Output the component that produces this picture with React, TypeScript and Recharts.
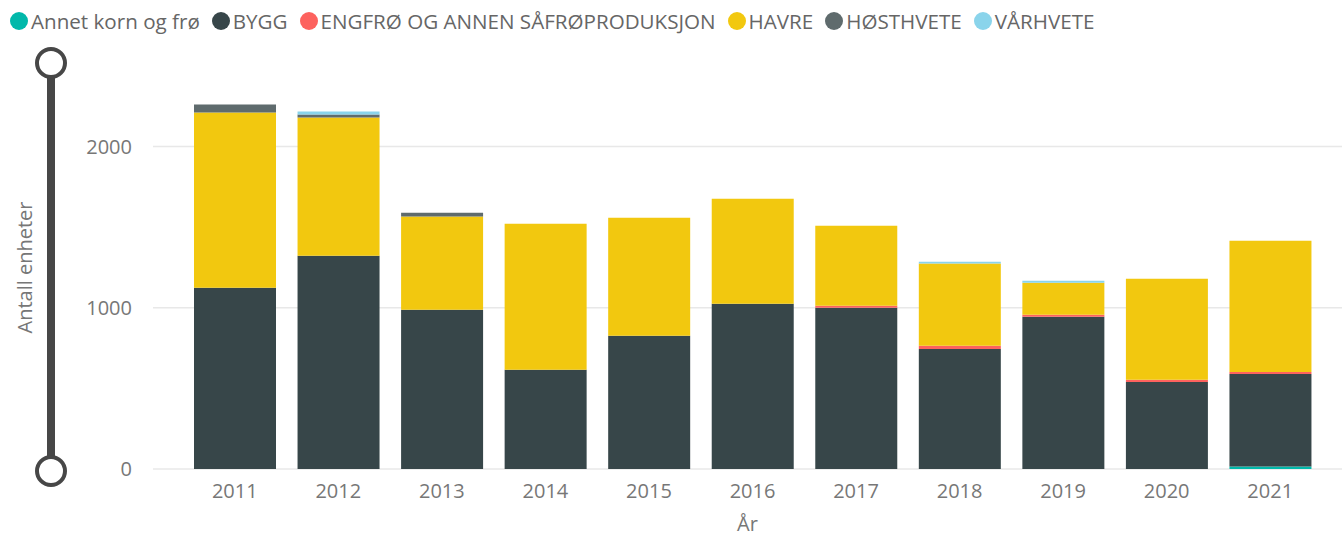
import React from "react";
import { BarChart, Bar, XAxis, YAxis, CartesianGrid } from "recharts";

const years = ["2011", "2012", "2013", "2014", "2015", "2016", "2017", "2018", "2019", "2020", "2021"];
const annet = [0, 0, 0, 0, 0, 0, 0, 0, 0, 0, 15];
const bygg = [1124, 1323, 988, 615, 826, 1025, 1000, 745, 944, 540, 575];
const engfro = [0, 0, 0, 0, 0, 0, 12, 19, 13, 13, 12];
const havre = [1087, 857, 579, 907, 733, 652, 497, 511, 198, 627, 814];
const hosthvete = [50, 19, 23, 0, 0, 0, 0, 0, 0, 0, 0];
const varhvete = [0, 18, 0, 0, 0, 0, 0, 11, 13, 0, 0];
const yTicks = [0, 1000, 2000];

const seriesNames = ["Annet korn og frø", "BYGG", "ENGFRØ OG ANNEN SÅFRØPRODUKSJON", "HAVRE", "HØSTHVETE", "VÅRHVETE"];
const seriesValues = [annet, bygg, engfro, havre, hosthvete, varhvete];
const seriesColors = ["#01B8AA", "#374649", "#FD625E", "#F2C80F", "#5F6B6D", "#8AD4EB"];

const data = years.map((y, i) => {
  const row: Record<string, number | string> = { year: y };
  seriesNames.forEach((n, k) => {
    row[n] = seriesValues[k][i];
  });
  return row;
});

const FONT = '"Segoe UI", "Open Sans", sans-serif';

export default function App() {
  return (
    <div style={{ position: "absolute", left: 0, top: 0, width: 1342, height: 536, fontFamily: FONT, background: "#fff" }}>
      <div style={{ position: "absolute", left: 10, top: 8, display: "flex", alignItems: "center", whiteSpace: "nowrap" }}>
        {seriesNames.map((n, k) => (
          <div key={n} style={{ display: "flex", alignItems: "center", marginRight: 12 }}>
            <span style={{ width: 18, height: 18, borderRadius: 9, background: seriesColors[k], display: "inline-block", marginRight: 3 }} />
            <span style={{ fontSize: 20.6, color: "#666", lineHeight: "26px" }}>{n}</span>
          </div>
        ))}
      </div>
      <BarChart width={1342} height={536} data={data} margin={{ top: 66, right: 0, left: 0, bottom: 0 }}>
        <CartesianGrid horizontal vertical={false} horizontalValues={yTicks} stroke="#e8e8e8" strokeWidth={1.5} />
        <XAxis
          dataKey="year"
          height={67}
          axisLine={false}
          tickLine={false}
          tickMargin={9}
          padding={{ left: 30, right: 20 }}
          tick={{ fill: "#777", fontSize: 20, fontFamily: FONT }}
          label={{ value: "År", position: "insideBottom", offset: 5, fill: "#777", fontSize: 20, fontFamily: FONT }}
        />
        <YAxis
          width={153}
          domain={[0, 2500]}
          ticks={yTicks}
          axisLine={false}
          tickLine={false}
          tickMargin={15}
          tick={{ fill: "#777", fontSize: 20, fontFamily: FONT }}
          label={{ value: "Antall enheter", angle: -90, position: "center", dx: -52, fill: "#777", fontSize: 20, fontFamily: FONT }}
        />
        {seriesNames.map((n, k) => (
          <Bar key={n} dataKey={n} stackId="a" fill={seriesColors[k]} barSize={82} isAnimationActive={false} />
        ))}
      </BarChart>
      <svg style={{ position: "absolute", left: 0, top: 0 }} width={100} height={536}>
        <line x1={51} y1={63} x2={51} y2={471} stroke="#474747" strokeWidth={8} />
        <circle cx={51} cy={63} r={14} fill="#fff" stroke="#474747" strokeWidth={4} />
        <circle cx={51} cy={471} r={14} fill="#fff" stroke="#474747" strokeWidth={4} />
      </svg>
    </div>
  );
}
